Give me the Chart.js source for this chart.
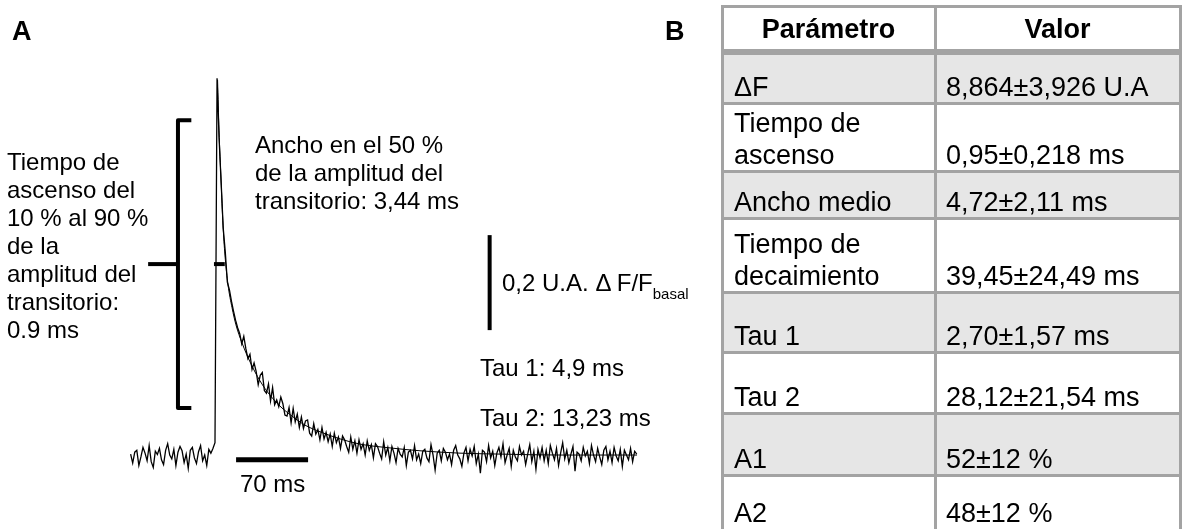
<!DOCTYPE html>
<html>
<head>
<meta charset="utf-8">
<script src="https://cdn.jsdelivr.net/npm/chart.js@4.4.1/dist/chart.umd.min.js"></script>
<style>
  html, body { margin: 0; padding: 0; background: #fff; }
  body { width: 1182px; height: 529px; position: relative; overflow: hidden;
         font-family: Arial, "Liberation Sans", sans-serif; color: #000; }
  #trace { position: absolute; left: 0; top: 0; }
  .lbl { position: absolute; font-size: 24px; line-height: 28px; white-space: nowrap; }
  .panel { position: absolute; font-size: 27px; line-height: 30px; font-weight: bold; }
  sub { font-size: 15px; vertical-align: -8px; line-height: 0; }
  #table { position: absolute; left: 0; top: 0; width: 1182px; height: 529px; }
  .cellbg { position: absolute; background: #e6e6e6; }
  .hl { position: absolute; background: #a3a3a3; }
  .ctext { position: absolute; font-size: 27px; line-height: 32px; white-space: nowrap; }
  .head { font-weight: bold; text-align: center; }
</style>
</head>
<body>
<canvas id="trace" width="700" height="529"></canvas>

<div class="panel" style="left:12px; top:16px;">A</div>
<div class="panel" style="left:665px; top:16px;">B</div>

<div class="lbl" style="left:7px; top:148px;">Tiempo de<br>ascenso del<br>10 % al 90 %<br>de la<br>amplitud del<br>transitorio:<br>0.9 ms</div>
<div class="lbl" style="left:255px; top:131px;">Ancho en el 50 %<br>de la amplitud del<br>transitorio: 3,44 ms</div>
<div class="lbl" style="left:502px; top:269px;">0,2 U.A. Δ F/F<sub>basal</sub></div>
<div class="lbl" style="left:480px; top:354px;">Tau 1: 4,9 ms</div>
<div class="lbl" style="left:480px; top:404px;">Tau 2: 13,23 ms</div>
<div class="lbl" style="left:240px; top:470px;">70 ms</div>

<div id="table"></div>

<script>
// Fluorescence transient (ΔF/F), sampled every 2 ms starting 83 ms before the upstroke
const sampleStartMs = -83;
const sampleIntervalMs = 2;
const fluorescence = [
  // baseline before the stimulus
  0.004, -0.015, 0.008, 0.012, -0.020, -0.002, 0.018, 0.006, -0.010, 0.022,
  -0.012, -0.024, 0.010, 0.003, 0.016, -0.008, -0.018, 0.012, 0.026, 0.002,
  -0.006, 0.014, -0.020, 0.008, 0.020, 0.011, -0.014, 0.004, -0.026, 0.012,
  0.018, -0.004, -0.016, 0.009, 0.022, -0.010, 0.002, -0.020, 0.014, 0.006,
  0.016, 0.028,
  // peak and decay
  0.795, 0.668, 0.575, 0.480, 0.430, 0.366, 0.350, 0.326, 0.305, 0.286,
  0.270, 0.258, 0.236, 0.252, 0.226, 0.205, 0.214, 0.182, 0.196, 0.178,
  0.150, 0.170, 0.176, 0.138, 0.132, 0.152, 0.116, 0.144, 0.108, 0.118,
  0.104, 0.124, 0.110, 0.086, 0.084, 0.102, 0.070, 0.100, 0.072, 0.088,
  0.060, 0.082, 0.058, 0.074, 0.076, 0.048, 0.042, 0.068, 0.046, 0.056,
  0.034, 0.060, 0.036, 0.050, 0.030, 0.046, 0.020, 0.048, 0.028, 0.040,
  0.016, 0.042, 0.034, 0.020, 0.008, 0.040, 0.014, 0.032, 0.006, 0.034,
  0.014, 0.026, 0.002, 0.032, 0.012, 0.024, -0.004, 0.026, 0.020, 0.006,
  -0.006, 0.030, 0.002, 0.018, -0.010, 0.020,
  // return to baseline
  0.006, -0.014, 0.016, 0.004, -0.002, 0.018, -0.020, 0.008, 0.012, -0.006,
  0.022, -0.008, 0.004, -0.016, 0.010, 0.014, -0.004, -0.012, 0.024, 0.002,
  -0.030, 0.006, 0.012, -0.010, 0.016, 0.008, -0.008, 0.004, -0.018, 0.012,
  0.022, 0.002, -0.006, -0.022, 0.006, 0.018, -0.010, 0.014, 0.000, 0.020,
  -0.016, 0.004, -0.036, 0.012, 0.008, -0.012, 0.022, -0.004, 0.010, -0.020,
  0.006, 0.018, -0.002, 0.026, -0.014, 0.002, 0.016, -0.022, 0.012, -0.002,
  -0.010, 0.020, 0.002, 0.010, -0.018, 0.004, 0.024, -0.012, 0.010, -0.028,
  0.014, -0.004, 0.018, -0.010, 0.012, -0.016, 0.022, 0.006, -0.008, 0.016,
  -0.020, 0.006, 0.028, -0.006, 0.012, -0.014, 0.004, 0.020, -0.032, 0.008,
  0.004, -0.010, 0.018, 0.000, 0.010, -0.016, 0.022, 0.002, -0.012, 0.016,
  -0.002, -0.018, 0.012, 0.020, -0.008, 0.010, -0.014, 0.018, 0.000, -0.010,
  0.014, -0.022, 0.012, 0.002, -0.008, 0.016, -0.012, 0.010, 0.004
];

// Bi-exponential fit of the decay phase
const fitTimeMs = [1.5, 2.9, 4.9, 6.8, 8.7, 11.7, 15.6, 19.4, 25.3, 33.1, 42.8, 52.5,
                   62.2, 73.9, 86.5, 101.1, 120.6, 140.0, 169.2, 198.3, 237.2, 276.1, 334.4, 409.3];
const fitValue  = [0.792, 0.686, 0.581, 0.486, 0.423, 0.360, 0.312, 0.276, 0.238, 0.198, 0.158, 0.128,
                   0.105, 0.084, 0.065, 0.051, 0.036, 0.025, 0.017, 0.011, 0.006, 0.004, 0.002, 0.002];

// Table of kinetic parameters (mean ± SD)
const paramNames  = [["ΔF"], ["Tiempo de", "ascenso"], ["Ancho medio"], ["Tiempo de", "decaimiento"],
                     ["Tau 1"], ["Tau 2"], ["A1"], ["A2"]];
const paramValues = ["8,864±3,926 U.A", "0,95±0,218 ms", "4,72±2,11 ms", "39,45±24,49 ms",
                     "2,70±1,57 ms", "28,12±21,54 ms", "52±12 %", "48±12 %"];
const tableHeader = ["Parámetro", "Valor"];

// Annotation geometry in data units (ms, ΔF/F)
const riseBracket   = { x: -37, tickX: -24, arrowX: -66, top: 0.707, bottom: 0.101, mid: 0.404 };
const halfWidthMark = { from: -2, to: 8.5, level: 0.404 };
const timeBar       = { from: 19.5, to: 89.5, level: -0.008 };   // 70 ms
const ampBar        = { at: 266, from: 0.265, to: 0.465 };       // 0.2 ΔF/F

const tracePoints = fluorescence.map((v, i) => ({ x: sampleStartMs + i * sampleIntervalMs, y: v }));
const fitPoints = fitTimeMs.map((t, i) => ({ x: t, y: fitValue[i] }));

const annotations = {
  id: 'annotations',
  afterDatasetsDraw(chart) {
    const { ctx, scales: { x, y } } = chart;
    const px = v => x.getPixelForValue(v);
    const py = v => y.getPixelForValue(v);
    ctx.save();
    ctx.strokeStyle = '#000';
    ctx.lineCap = 'butt';
    ctx.lineJoin = 'round';

    // bracket spanning the 10–90 % rise
    ctx.lineWidth = 4;
    ctx.beginPath();
    ctx.moveTo(px(riseBracket.tickX), py(riseBracket.top));
    ctx.lineTo(px(riseBracket.x), py(riseBracket.top));
    ctx.lineTo(px(riseBracket.x), py(riseBracket.bottom));
    ctx.lineTo(px(riseBracket.tickX), py(riseBracket.bottom));
    ctx.stroke();
    ctx.beginPath();
    ctx.moveTo(px(riseBracket.arrowX), py(riseBracket.mid));
    ctx.lineTo(px(riseBracket.x), py(riseBracket.mid));
    ctx.stroke();

    // half-amplitude width marker
    ctx.beginPath();
    ctx.moveTo(px(halfWidthMark.from), py(halfWidthMark.level));
    ctx.lineTo(px(halfWidthMark.to), py(halfWidthMark.level));
    ctx.stroke();

    // scale bars
    ctx.lineWidth = 5;
    ctx.beginPath();
    ctx.moveTo(px(timeBar.from), py(timeBar.level));
    ctx.lineTo(px(timeBar.to), py(timeBar.level));
    ctx.stroke();
    ctx.lineWidth = 4;
    ctx.beginPath();
    ctx.moveTo(px(ampBar.at), py(ampBar.from));
    ctx.lineTo(px(ampBar.at), py(ampBar.to));
    ctx.stroke();
    ctx.restore();
  }
};

new Chart(document.getElementById('trace'), {
  type: 'line',
  data: {
    datasets: [
      { data: tracePoints, borderColor: '#000', borderWidth: 1.3, pointRadius: 0, tension: 0, fill: false },
      { data: fitPoints, borderColor: '#000', borderWidth: 1, pointRadius: 0,
        cubicInterpolationMode: 'monotone', fill: false }
    ]
  },
  options: {
    responsive: false,
    animation: false,
    devicePixelRatio: 1,
    layout: { padding: 0 },
    plugins: { legend: { display: false }, tooltip: { enabled: false } },
    scales: {
      x: { type: 'linear', min: -210, max: 470.5, display: false },
      y: { type: 'linear', min: -0.1537, max: 0.96, display: false }
    }
  },
  plugins: [annotations]
});

// Panel B: parameter table
(function buildTable() {
  const host = document.getElementById('table');
  const colEdges = [722, 935, 1180];
  const rowEdges = [6, 52, 103, 171, 218, 292, 352, 413, 475, 529];
  const add = (cls, style, html) => {
    const d = document.createElement('div');
    d.className = cls;
    Object.assign(d.style, style);
    if (html !== undefined) d.innerHTML = html;
    host.appendChild(d);
  };
  // shaded rows
  paramNames.forEach((_, i) => {
    if (i % 2 === 0) {
      add('cellbg', { left: colEdges[0] + 'px', top: rowEdges[i + 1] + 'px',
        width: (colEdges[2] - colEdges[0]) + 'px', height: (rowEdges[i + 2] - rowEdges[i + 1]) + 'px' });
    }
  });
  // grid lines (the last row runs off the bottom edge)
  rowEdges.slice(0, -1).forEach((y, i) => {
    const w = i === 1 ? 6 : 3;
    add('hl', { left: (colEdges[0] - 1.5) + 'px', top: (y - w / 2) + 'px',
      width: (colEdges[2] - colEdges[0] + 3) + 'px', height: w + 'px' });
  });
  colEdges.forEach(x => {
    add('hl', { left: (x - 1.5) + 'px', top: (rowEdges[0] - 1.5) + 'px', width: '3px',
      height: (540 - rowEdges[0]) + 'px' });
  });
  // header
  tableHeader.forEach((h, c) => {
    add('ctext head', { left: colEdges[c] + 'px', width: (colEdges[c + 1] - colEdges[c]) + 'px',
      top: ((rowEdges[0] + rowEdges[1]) / 2 - 16) + 'px' }, h);
  });
  // body rows: text sits on the bottom of each cell
  paramNames.forEach((lines, i) => {
    const bottom = rowEdges[i + 2];
    add('ctext', { left: (colEdges[0] + 12) + 'px', top: (bottom - 32 * lines.length) + 'px' }, lines.join('<br>'));
    add('ctext', { left: (colEdges[1] + 11) + 'px', top: (bottom - 32) + 'px' }, paramValues[i]);
  });
})();
</script>
</body>
</html>
